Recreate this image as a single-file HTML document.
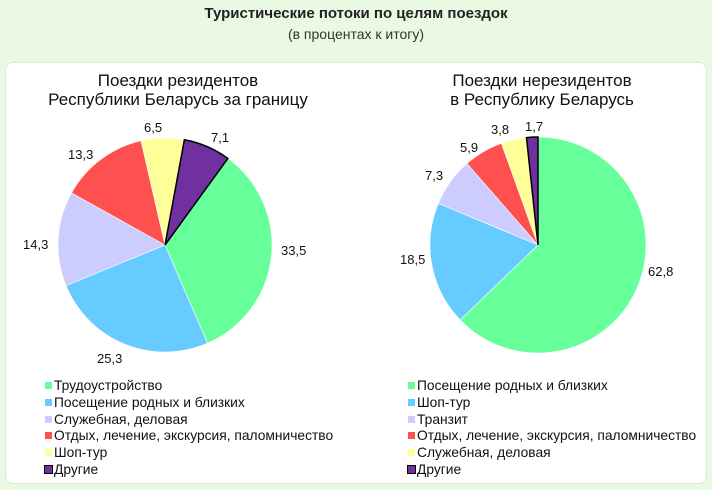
<!DOCTYPE html>
<html><head><meta charset="utf-8"><style>
body{margin:0;width:712px;height:490px;background:#e9f9e3;font-family:"Liberation Sans",Arial,sans-serif;overflow:hidden;position:relative}
.t{position:absolute;left:0;width:712px;text-align:center}
.panel{position:absolute;left:5px;top:62px;width:700px;height:420px;background:#fff;border-radius:8px;border:1px solid #d8ecd0}
svg{position:absolute;left:0;top:0}
.lg{position:absolute;font-size:13.8px;line-height:16.8px;color:#111}
.lg span{display:inline-block;width:7px;height:7px;margin-right:2px;vertical-align:1px}
</style></head><body>
<div class="t" style="top:5px;font-size:15px;font-weight:bold;color:#222">Туристические потоки по целям поездок</div>
<div class="t" style="top:26px;font-size:14px;color:#333">(в процентах к итогу)</div>
<div class="panel"></div>
<svg width="712" height="490" id="s" font-family="Liberation Sans, Arial, sans-serif" font-size="13" fill="#111">
<text x="178" y="86" text-anchor="middle" font-size="17">Поездки резидентов</text>
<text x="178" y="105" text-anchor="middle" font-size="17">Республики Беларусь за границу</text>
<text x="542" y="86" text-anchor="middle" font-size="17">Поездки нерезидентов</text>
<text x="542" y="105" text-anchor="middle" font-size="17">в Республику Беларусь</text>
<text x="144" y="132">6,5</text>
<text x="211" y="142">7,1</text>
<text x="68" y="159">13,3</text>
<text x="23" y="249">14,3</text>
<text x="281" y="255">33,5</text>
<text x="97" y="363">25,3</text>
<text x="491" y="134">3,8</text>
<text x="525" y="131">1,7</text>
<text x="460" y="152">5,9</text>
<text x="425" y="180">7,3</text>
<text x="400" y="264">18,5</text>
<text x="648" y="276">62,8</text>
</svg>
<div class="lg" style="left:45px;top:378px">
<div><span style="background:#66ff99"></span>Трудоустройство</div>
<div><span style="background:#66ccff"></span>Посещение родных и близких</div>
<div><span style="background:#ccccff"></span>Служебная, деловая</div>
<div><span style="background:#ff5050"></span>Отдых, лечение, экскурсия, паломничество</div>
<div><span style="background:#ffff99"></span>Шоп-тур</div>
<div><span style="background:#7030a0;outline:1px solid #000"></span>Другие</div>
</div>
<div class="lg" style="left:408px;top:378px">
<div><span style="background:#66ff99"></span>Посещение родных и близких</div>
<div><span style="background:#66ccff"></span>Шоп-тур</div>
<div><span style="background:#ccccff"></span>Транзит</div>
<div><span style="background:#ff5050"></span>Отдых, лечение, экскурсия, паломничество</div>
<div><span style="background:#ffff99"></span>Служебная, деловая</div>
<div><span style="background:#7030a0;outline:1px solid #000"></span>Другие</div>
</div>
<script>
var s=document.getElementById('s');
function pie(cx,cy,r,start,vals,cols){
 var a=start;
 vals.forEach(function(v,i){
  var b=a+v*3.6;
  var p=function(d){var t=(d-90)*Math.PI/180;return (cx+r*Math.cos(t)).toFixed(2)+','+(cy+r*Math.sin(t)).toFixed(2)};
  var e=document.createElementNS('http://www.w3.org/2000/svg','path');
  e.setAttribute('d','M'+cx+','+cy+' L'+p(a)+' A'+r+','+r+' 0 '+(b-a>180?1:0)+' 1 '+p(b)+' Z');
  e.setAttribute('fill',cols[i]);
  if(i==5){e.setAttribute('stroke','#000');e.setAttribute('stroke-width','1.5');}
  else{e.setAttribute('stroke','#fff');e.setAttribute('stroke-width','0.6');}
  s.appendChild(e);a=b;
 });
}
var c=['#66ff99','#66ccff','#ccccff','#ff5050','#ffff99','#7030a0'];
pie(165,245,107,36,[33.5,25.3,14.3,13.3,6.5,7.1],c);
pie(538,245,108,0,[62.8,18.5,7.3,5.9,3.8,1.7],c);
</script>
</body></html>
